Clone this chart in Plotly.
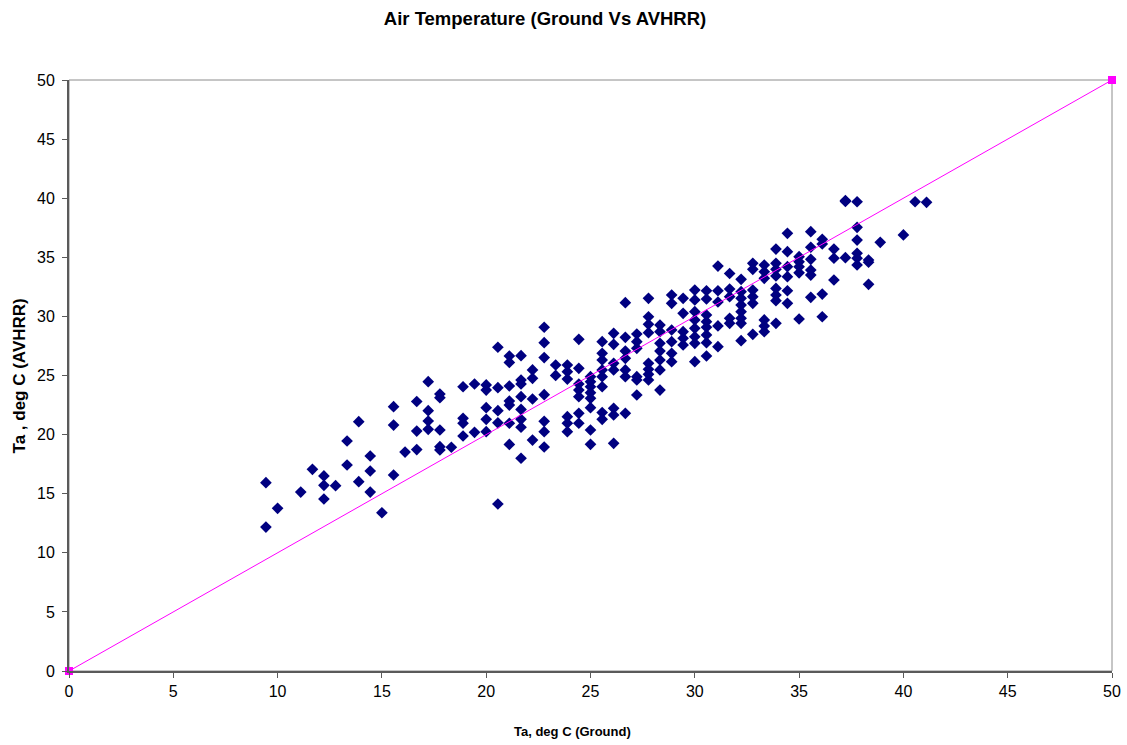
import plotly.graph_objects as go

# ground temperature columns (deg C) and the AVHRR estimates measured at each
ground_cols = [9.44, 10.0, 11.11, 11.67, 12.22, 12.78, 13.33, 13.89, 14.44, 15.0,
               15.56, 16.11, 16.67, 17.22, 17.78, 18.33, 18.89, 19.44, 20.0, 20.56,
               21.11, 21.67, 22.22, 22.78, 23.33, 23.89, 24.44, 25.0, 25.56, 26.11,
               26.67, 27.22, 27.78, 28.33, 28.89, 29.44, 30.0, 30.56, 31.11, 31.67,
               32.22, 32.78, 33.33, 33.89, 34.44, 35.0, 35.56, 36.11, 36.67, 37.22,
               37.78, 38.33, 38.89, 40.0, 40.56, 41.11]

avhrr_cols = [
    [15.93, 12.18],
    [13.76],
    [15.14],
    [17.06],
    [16.50, 15.71, 14.55],
    [15.68],
    [19.46, 17.43],
    [21.09, 16.02],
    [18.19, 16.92, 15.14],
    [13.39],
    [22.36, 20.81, 16.58],
    [18.52],
    [22.80, 20.30, 18.73],
    [24.48, 22.02, 21.15, 20.45],
    [23.43, 23.12, 20.39, 18.98, 18.70],
    [18.93],
    [24.05, 21.38, 20.96, 19.88],
    [24.28, 20.19],
    [24.20, 23.77, 22.28, 21.29, 20.25],
    [27.39, 23.97, 22.02, 21.00, 14.13],
    [26.65, 26.11, 24.11, 22.84, 22.50, 20.96, 19.17],
    [26.68, 24.62, 24.28, 23.21, 22.13, 21.29, 20.62, 18.00],
    [25.47, 24.76, 23.01, 19.54],
    [29.08, 27.78, 26.52, 23.38, 21.12, 20.25, 18.95],
    [25.89, 25.01],
    [25.89, 25.32, 24.70, 21.52, 20.96, 20.25],
    [28.06, 25.61, 24.28, 23.77, 23.21, 21.80, 20.96],
    [24.90, 24.48, 24.05, 23.55, 23.07, 22.28, 20.39, 19.18],
    [27.86, 26.88, 26.31, 25.47, 24.90, 24.05, 21.86, 21.29],
    [28.57, 27.64, 26.03, 25.47, 22.22, 21.66, 19.26],
    [31.16, 28.23, 27.07, 26.45, 25.47, 24.90, 21.80],
    [28.51, 27.86, 27.30, 24.90, 24.62, 23.35],
    [31.53, 29.97, 29.33, 28.62, 26.03, 25.52, 25.10, 24.62],
    [29.27, 28.71, 27.72, 27.07, 26.31, 25.47, 23.77],
    [31.81, 31.11, 28.85, 27.86, 26.88, 26.17],
    [31.53, 30.26, 28.71, 28.15, 27.58],
    [32.23, 31.39, 30.40, 29.70, 28.99, 28.28, 27.72, 26.17],
    [32.17, 31.47, 30.12, 29.55, 29.08, 28.43, 27.78, 26.65],
    [34.26, 32.17, 31.22, 29.19, 27.44],
    [33.63, 32.32, 31.67, 29.84, 29.41],
    [33.14, 32.09, 31.53, 30.96, 30.40, 29.84, 29.41, 27.95],
    [34.49, 33.98, 32.23, 31.67, 31.11, 28.48],
    [34.35, 33.78, 33.22, 29.70, 29.19, 28.71],
    [35.70, 34.49, 33.98, 33.42, 32.37, 31.81, 31.33, 29.41],
    [37.03, 35.48, 34.21, 33.36, 32.17, 31.11],
    [35.05, 34.62, 34.20, 33.69, 29.78],
    [37.17, 35.85, 34.83, 33.92, 33.50, 31.61],
    [36.52, 36.13, 31.89, 29.97],
    [35.70, 34.92, 33.08],
    [39.80, 39.72, 34.97],
    [39.70, 37.54, 36.46, 35.34, 34.92, 34.35],
    [34.77, 34.58, 32.71],
    [36.27],
    [36.89],
    [39.70],
    [39.65],
]

# 1:1 reference line end points
line_x = [0, 50]
line_y = [0, 50]

ground = []
avhrr = []
for gx, ys in zip(ground_cols, avhrr_cols):
    for yy in ys:
        ground.append(gx)
        avhrr.append(yy)

fig = go.Figure()
fig.add_trace(go.Scatter(x=ground, y=avhrr, mode='markers',
                         marker=dict(symbol='diamond', size=9, color='#000080'),
                         hovertemplate="Ground: %{x}<br>AVHRR: %{y}<extra></extra>",
                         showlegend=False))
fig.add_trace(go.Scatter(x=line_x, y=line_y, mode='lines+markers',
                         line=dict(color='#FF00FF', width=1),
                         marker=dict(symbol='square', size=8, color='#FF00FF'),
                         cliponaxis=False, showlegend=False))

# automargin off: the default template would widen the right margin for the "50" label
axis_common = dict(range=[0, 50], dtick=5, showgrid=False, zeroline=False,
                   showline=True, linecolor='#5a5a5a', linewidth=2, automargin=False,
                   ticks='outside', ticklen=5, tickwidth=1, tickcolor='#5a5a5a',
                   tickfont=dict(family='Liberation Sans, Arial', size=16, color='black'))

fig.update_layout(
    width=1127, height=745,
    margin=dict(l=69, r=15, t=80, b=74),
    paper_bgcolor='white', plot_bgcolor='white',
    title=dict(text='<b>Air Temperature (Ground Vs AVHRR)</b>',
               x=0.4836, xanchor='center', y=0.9745, yanchor='middle',
               font=dict(family='Liberation Sans, Arial', size=18.5, color='black')),
    xaxis=dict(axis_common),
    yaxis=dict(axis_common, ticklabelstandoff=4),
    shapes=[dict(type='rect', xref='paper', yref='paper', x0=0, y0=0, x1=1, y1=1,
                 line=dict(color='#8c8c8c', width=1), layer='below')],
    annotations=[
        dict(text='<b>Ta, deg C (Ground)</b>', xref='paper', yref='paper',
             x=0.4827, y=-0.102, xanchor='center', yanchor='middle', showarrow=False,
             font=dict(family='Liberation Sans, Arial', size=13, color='black')),
        dict(text='<b>Ta , deg C (AVHRR)</b>', xref='paper', yref='paper',
             x=-0.047, y=0.5, xanchor='center', yanchor='middle', showarrow=False,
             textangle=-90,
             font=dict(family='Liberation Sans, Arial', size=17, color='black')),
    ],
)

# drop the default body margin so the figure fills the window exactly
fig.write_html("out.html",
               config={'displayModeBar': False},
               post_script="document.body.style.margin='0px';"
                           "document.body.style.overflow='hidden';"
                           "document.documentElement.style.overflow='hidden';")
